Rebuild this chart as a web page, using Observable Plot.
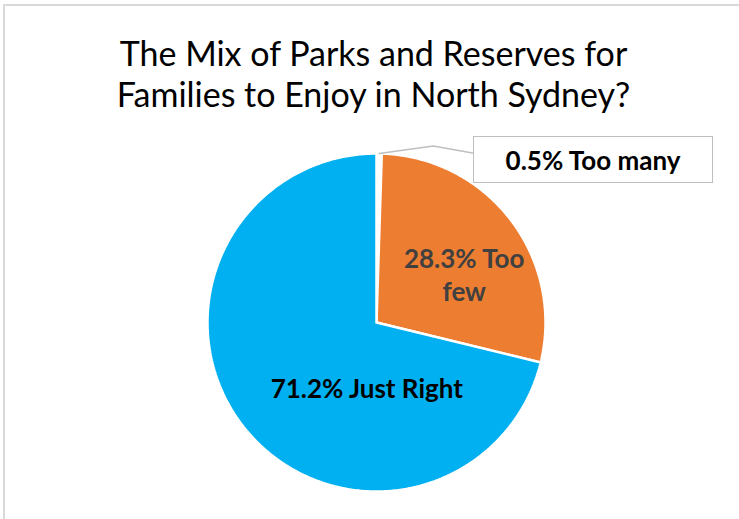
<!DOCTYPE html>
<html><head><meta charset="utf-8">
<script src="https://cdn.jsdelivr.net/npm/d3@7"></script>
<script src="https://cdn.jsdelivr.net/npm/@observablehq/plot@0.6"></script>
<style>
body{margin:0;background:#fff;}
#wrap{position:relative;width:739px;height:519px;overflow:hidden;font-family:Lato,sans-serif}
#frame{position:absolute;left:3px;top:4px;width:800px;height:600px;border-left:2px solid #D9D9D9;border-top:2px solid #D9D9D9}
#title{position:absolute;left:4px;top:32px;width:739px;text-align:center;font-size:34px;line-height:41px;color:#000}
#chart{position:absolute;left:0;top:0}
#callout{position:absolute;left:473px;top:136px;width:238px;height:45px;border:1px solid #BFBFBF;background:#fff;box-sizing:content-box;
  display:flex;align-items:center;justify-content:center;font-weight:bold;font-size:26px;color:#000}
</style></head><body>
<div id="wrap"><div id="frame"></div><div id="chart"></div>
<div id="title">The Mix of Parks and Reserves for<br>Families to Enjoy in North Sydney?</div>
<div id="callout"></div></div>
<script>
const categories = ["Too many", "Too few", "Just Right"];
const shares = [0.5, 28.3, 71.2];
const labels = ["0.5% Too many", "28.3% Too\nfew", "71.2% Just Right"];
const colors = ["#FFFFFF", "#ED7D31", "#00B0F0"];

const arcs = d3.pie().sort(null)(shares);
const pts = [];
arcs.forEach((a, i) => {
  pts.push({cat: categories[i], x: 0, y: 0});
  const n = Math.max(2, Math.ceil((a.endAngle - a.startAngle) / 0.01));
  for (let k = 0; k <= n; k++) {
    const t = a.startAngle + (a.endAngle - a.startAngle) * k / n;
    pts.push({cat: categories[i], x: Math.sin(t), y: Math.cos(t)});
  }
  pts.push({cat: categories[i], x: 0, y: 0});
});

const mid = a => (a.startAngle + a.endAngle) / 2;
const centroid = i => ({label: labels[i], x: 0.6 * Math.sin(mid(arcs[i])), y: 0.6 * Math.cos(mid(arcs[i]))});

const m0 = mid(arcs[0]);
const p0 = {x: Math.sin(m0), y: Math.cos(m0)};
const leader = [p0, {x: p0.x + 0.32, y: p0.y + 0.045}, {x: p0.x + 0.552, y: p0.y + 0.003}];

document.getElementById("callout").textContent = labels[0];

const textOpts = {x: "x", y: "y", text: "label", lineAnchor: "middle", fontSize: 26, fontWeight: "bold", fontFamily: "Lato, sans-serif", lineHeight: 1.27};

const chart = Plot.plot({
  width: 739, height: 519,
  margin: 0,
  x: {domain: [-1, 1], range: [207, 545], axis: null},
  y: {domain: [-1, 1], range: [491, 153], axis: null},
  color: {domain: categories, range: colors},
  marks: [
    Plot.line(pts, {x: "x", y: "y", z: "cat", fill: "cat", stroke: "#fff", strokeWidth: 2.5, strokeLinejoin: "miter", curve: "linear"}),
    Plot.line(leader, {x: "x", y: "y", stroke: "#BFBFBF", strokeWidth: 1.5}),
    Plot.text([centroid(1)], {...textOpts, fill: "#404040", dx: 7, dy: 13}),
    Plot.text([centroid(2)], {...textOpts, fill: "#000000", dx: 70, dy: 2})
  ]
});
document.getElementById("chart").append(chart);
</script>
</body></html>
